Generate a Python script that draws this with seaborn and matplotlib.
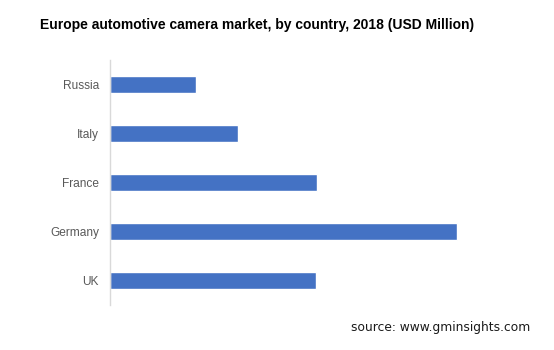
import matplotlib
matplotlib.use("Agg")
import matplotlib.pyplot as plt
import seaborn as sns
import pandas as pd

countries = ["Russia", "Italy", "France", "Germany", "UK"]
values = [43, 64, 103.5, 173.5, 103]

title = "Europe automotive camera market, by country, 2018 (USD Million)"
source = "source: www.gminsights.com"

sns.set_theme(style="white")
plt.rcParams['font.family'] = ['Liberation Sans', 'DejaVu Sans']

df = pd.DataFrame({"country": countries, "value": values})

fig = plt.figure(figsize=(5.54, 3.5), dpi=100)
ax = fig.add_axes([110/554, 1 - 305/350, 390/554, 245/350])
sns.barplot(data=df, x="value", y="country", order=countries, orient="h",
            color="#4472C4", saturation=1, width=0.36, ax=ax)
ax.set_xlim(0, 195)
ax.set_xlabel("")
ax.set_ylabel("")
ax.set_xticks([])
for s in ["top", "right", "bottom"]:
    ax.spines[s].set_visible(False)
ax.spines["left"].set_color("#d9d9d9")
ax.spines["left"].set_linewidth(1)
ax.tick_params(axis="y", length=0, pad=8, labelsize=8.6, labelcolor="#595959")

fig.text(257/554, 1 - 25/350, title, ha="center", va="center",
         fontsize=10, fontweight="bold", color="black")
fig.text(530/554, 1 - 327/350, source, ha="right", va="center",
         fontsize=8.8, color="#1a1a1a", family=["DejaVu Sans"])

fig.savefig("out.png", dpi=100)
